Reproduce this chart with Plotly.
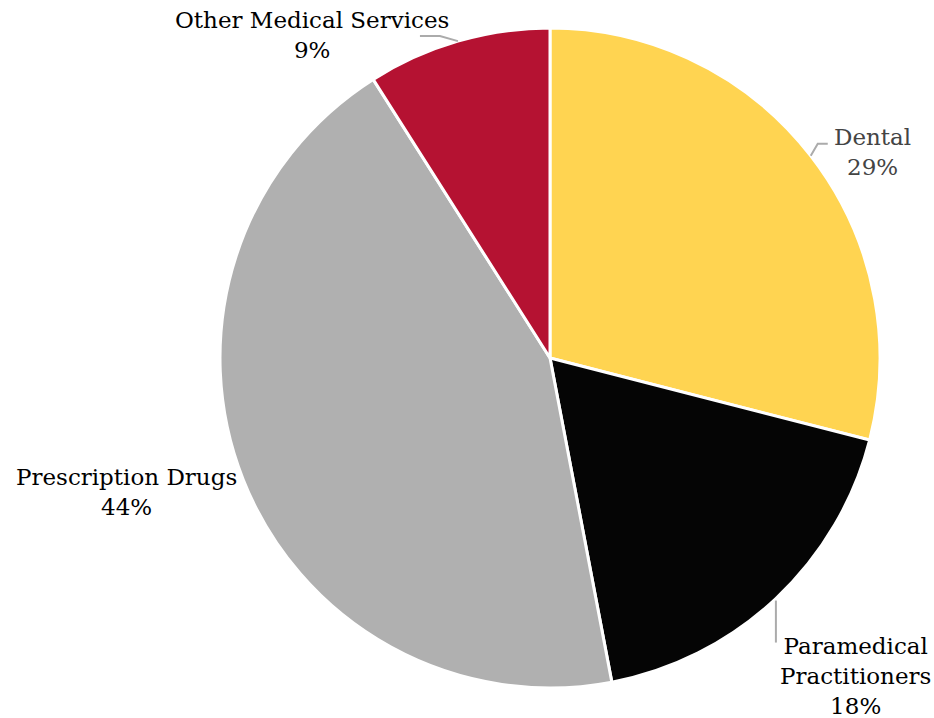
import math
import plotly.graph_objects as go

# Share of health benefit spending by category
categories = ["Dental", "Paramedical<br>Practitioners", "Prescription Drugs", "Other Medical Services"]
shares = [29, 18, 44, 9]
slice_colors = ["#FFD451", "#050505", "#B0B0B0", "#B51232"]
label_colors = ["#444444", "#000000", "#000000", "#000000"]

# Label placement, in pixels relative to where each slice's mid-angle meets the rim:
# text shift (dx, dy; y up) and leader polyline points (dx, dy; y up)
label_shift = [(62, 4), (80, -77), (-117, -13), (-146, 6)]
leader_pts = [
    [(0, 0), (7, 12), (17, 12)],
    [(0, -2), (0, -44)],
    [],
    [(0, 0), (-18, 5), (-38, 5)],
]

PLOT_PX = 660  # side of the square plot area in pixels

fig = go.Figure(
    go.Pie(
        labels=categories,
        values=shares,
        sort=False,
        direction="clockwise",
        rotation=0,
        marker=dict(colors=slice_colors, line=dict(color="white", width=3)),
        textinfo="none",
        automargin=False,
        showlegend=False,
        hoverinfo="label+percent",
    )
)

total = sum(shares)
cum = 0.0
for i, (cat, val) in enumerate(zip(categories, shares)):
    mid = (cum + val / 2) / total * 2 * math.pi
    cum += val
    ax = 0.5 + 0.5 * math.sin(mid)
    ay = 0.5 + 0.5 * math.cos(mid)
    pct = round(val / total * 100)
    dx, dy = label_shift[i]
    fig.add_annotation(
        x=ax, y=ay, xref="paper", yref="paper",
        text=f"{cat}<br>{pct}%",
        showarrow=False,
        xshift=dx, yshift=dy,
        xanchor="center", yanchor="middle",
        align="center",
        font=dict(family="DejaVu Serif", size=23, color=label_colors[i]),
    )
    pts = leader_pts[i]
    if pts:
        path = ""
        for j, (px, py) in enumerate(pts):
            path += ("M" if j == 0 else " L") + f" {ax + px / PLOT_PX:.5f},{ay + py / PLOT_PX:.5f}"
        fig.add_shape(
            type="path", path=path, xref="paper", yref="paper",
            line=dict(color="#ABABAB", width=2),
        )

fig.update_layout(
    width=934,
    height=718,
    margin=dict(l=220, r=54, t=28, b=30),
    paper_bgcolor="white",
    plot_bgcolor="white",
)

fig.write_html("out.html")
